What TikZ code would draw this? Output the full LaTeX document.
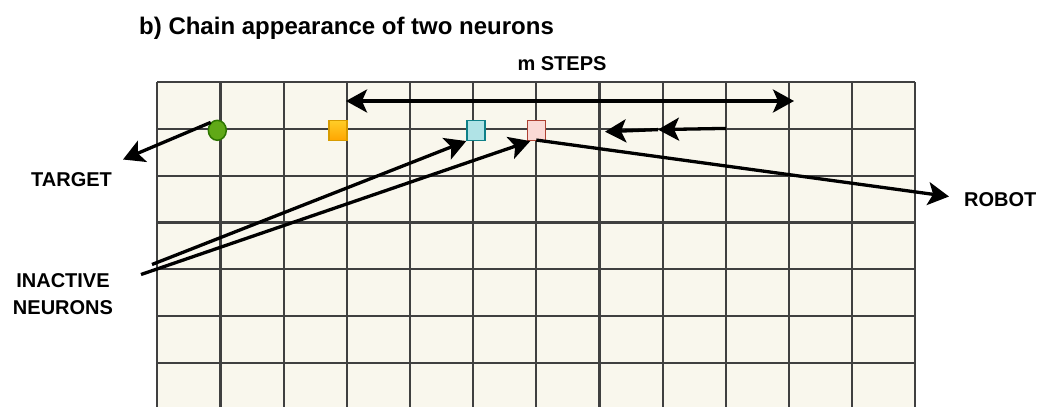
\documentclass[tikz,border=0pt]{standalone}
\usepackage{fontspec}
\setmainfont{Liberation Sans}
\usetikzlibrary{arrows.meta,shapes.geometric}
\definecolor{gridfill}{HTML}{F9F7ED}
\definecolor{gridline}{HTML}{404040}
\definecolor{gfill}{HTML}{60A917}
\definecolor{gline}{HTML}{2D7600}
\definecolor{ofill}{HTML}{FFCD28}
\definecolor{ofill2}{HTML}{FFA500}
\definecolor{oline}{HTML}{D79B00}
\definecolor{cfill}{HTML}{B0E3E6}
\definecolor{cline}{HTML}{0E8088}
\definecolor{pfill}{HTML}{FAD9D5}
\definecolor{pline}{HTML}{AE4132}
\tikzset{
  bigtip/.tip={Stealth[length=21pt,width=23pt,inset=5pt]},
  lbl/.style={font=\fontsize{20}{27}\selectfont\bfseries, inner sep=0pt, align=center},
  conn/.style={line width=3.3pt, -bigtip},
  cell/.style={minimum width=18pt, minimum height=20pt, inner sep=0pt, line width=1.5pt},
}
\begin{document}
\begin{tikzpicture}[x=1pt,y=-1pt]
\useasboundingbox (0,0) rectangle (1039,407);
% grid
\fill[gridfill] (157.3,82) rectangle (915.3,407);
\foreach \i in {0,...,12}{
  \draw[gridline, line width=2.2pt] (157.3+63.17*\i,82) -- (157.3+63.17*\i,407);
}
\foreach \j in {0,...,6}{
  \draw[gridline, line width=2.2pt] (157.3,82+46.8*\j) -- (915.3,82+46.8*\j);
}
% title and labels
\node[anchor=base west, inner sep=0pt, font=\fontsize{24}{28}\selectfont\bfseries] (title) at (139,34) {b) Chain appearance of two neurons};
\node[lbl, anchor=base] (steps) at (562,70) {m STEPS};
\node[lbl, anchor=base west] (target) at (31,186.5) {TARGET};
\node[lbl, anchor=base west] (robot) at (964,206) {ROBOT};
\node[lbl, anchor=center] (inactive) at (63,294.5) {INACTIVE\\NEURONS};
% cells
\node[ellipse, draw=gline, fill=gfill, line width=1.5pt, minimum width=18pt, minimum height=20pt, inner sep=0pt] (g) at (217.3,130.3) {};
\node[cell, draw=oline, top color=ofill, bottom color=ofill2] (o) at (338.2,130.3) {};
\node[cell, draw=cline, fill=cfill] (c) at (476,130.3) {};
\node[cell, draw=pline, fill=pfill] (p) at (536.3,130.3) {};
% coordinates
\coordinate (tgtTip) at (123,159.5);
\coordinate (robTip) at (949,196.5);
\coordinate (msL) at (346,101);
\coordinate (msR) at (794,101);
\coordinate (lA) at (726,128.4);
\coordinate (lB) at (658,129.6);
\coordinate (lC) at (605,131.7);
\coordinate (in1) at (152,264.5);
\coordinate (in2) at (141,274.5);
% connectors
\draw[conn] (g.130) -- (tgtTip);
\draw[conn] (p.south) ++(0,-1) -- (robTip);
\draw[conn, bigtip-bigtip] (msL) -- (msR);
\draw[conn] (lA) -- (lB);
\draw[conn] (lB) -- (lC);
\draw[conn] (in1) -- (c.south west);
\draw[conn] (in2) -- ([xshift=-6pt]p.south);
\end{tikzpicture}
\end{document}
